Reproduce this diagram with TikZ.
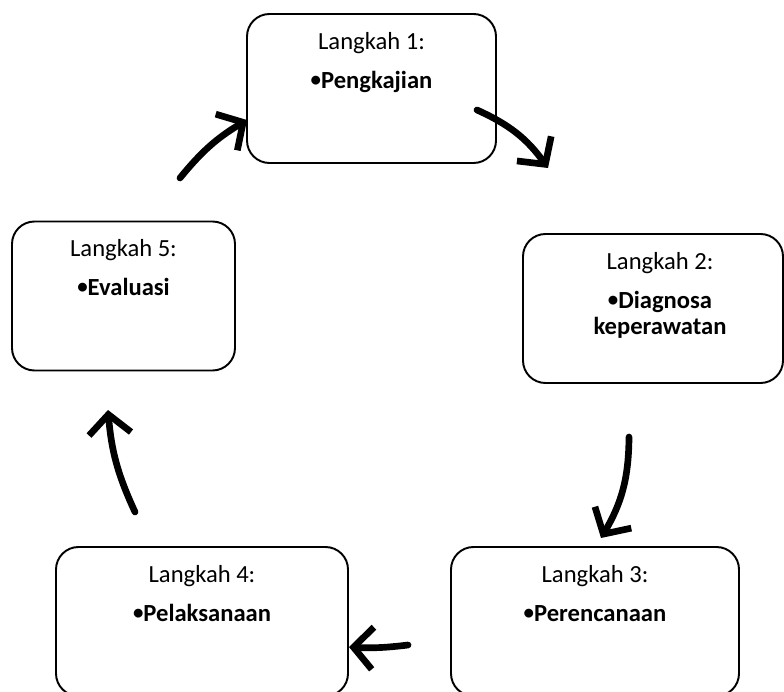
\documentclass[tikz,border=0pt]{standalone}
\usepackage{fontspec}
\setmainfont{Carlito}
\usetikzlibrary{positioning,arrows.meta}
\newcommand{\butir}{\raisebox{0.08em}{\scalebox{0.85}{•}}}
\begin{document}
\begin{tikzpicture}[line join=round,line cap=round
	,langkah/.style={draw,line width=1.1pt,rounded corners=0.45cm,minimum height=2.98cm}
	,isi/.style={align=center,inner sep=0pt,font=\fontsize{14}{15}\selectfont}
	,panah/.style={line width=3.8pt,-{Straight Barb[length=11pt,width=24pt]}}
	]
	%	\draw[thin,gray!50,step=1cm] (0,0) grid (16,14);
	\useasboundingbox (0,0) rectangle (15.68,13.82);
	
	\node[langkah,minimum width=4.98cm] (s1) at (7.43,12.05) {};
	\node[langkah,minimum width=5.2cm] (s2) at (13.06,7.65) {};
	\node[langkah,minimum width=5.76cm] (s3) at (11.9,1.39) {};
	\node[langkah,minimum width=5.84cm] (s4) at (4.04,1.39) {};
	\node[langkah,minimum width=4.46cm] (s5) at (2.47,7.9) {};
	
	\node[isi,below=0.38cm of s1.north] (t1) {Langkah 1:\\[7pt]\textbf{\butir Pengkajian}};
	\node[isi,below=0.38cm of s2.north,xshift=0.14cm] (t2) {Langkah 2:\\[7pt]\textbf{\butir Diagnosa}\\\textbf{keperawatan}};
	\node[isi,below=0.38cm of s3.north] (t3) {Langkah 3:\\[7pt]\textbf{\butir Perencanaan}};
	\node[isi,below=0.38cm of s4.north] (t4) {Langkah 4:\\[7pt]\textbf{\butir Pelaksanaan}};
	\node[isi,below=0.38cm of s5.north] (t5) {Langkah 5:\\[7pt]\textbf{\butir Evaluasi}};
	
	\coordinate (a1) at (9.54,11.62);
	\coordinate (b1) at (10.96,10.46);
	\coordinate (a2) at (12.58,5.08);
	\coordinate (b2) at (12.02,3.06);
	\coordinate (a3) at (8.16,0.92);
	\coordinate (b3) at (6.98,0.88);
	\coordinate (a4) at (2.70,3.58);
	\coordinate (b4) at (2.16,5.62);
	\coordinate (a5) at (3.60,10.26);
	\coordinate (b5) at (4.94,11.42);
	
	\draw[panah] (a1) to[bend left=15] (b1);
	\draw[panah] (a2) to[bend left=15] (b2);
	\draw[panah] (a3) to[bend left=5] (b3);
	\draw[panah] (a4) to[bend left=10] (b4);
	\draw[panah] (a5) to[bend left=10] (b5);
\end{tikzpicture}
\end{document}
